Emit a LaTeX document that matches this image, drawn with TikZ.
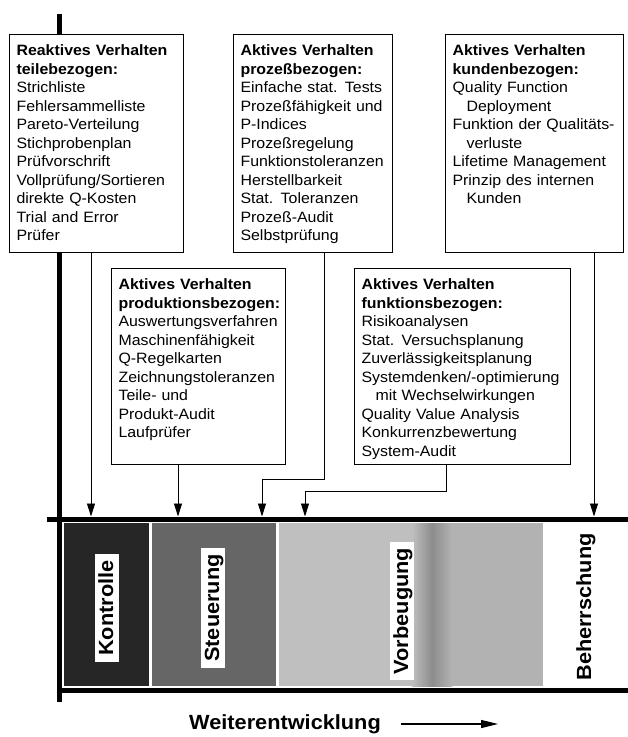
\documentclass[tikz,border=0pt]{standalone}
\usepackage{fontspec}
\setmainfont{Liberation Sans}[FakeStretch=1.06]
\usetikzlibrary{arrows.meta}
\tikzset{>=latex}
\hyphenpenalty=10000
\exhyphenpenalty=10000
\colorlet{kontrollgrau}{black!85}
\colorlet{steuergrau}{black!60}
\colorlet{vorbeugegrau}{black!25}
\newcommand\boxfont{\fontsize{15}{18.5}\selectfont}
\newcommand\phasefont{\fontsize{20.5}{24}\selectfont\bfseries}
\tikzstyle{qbox}=[draw,line width=1.1pt,fill=white,anchor=north west,align=left,inner xsep=7pt,inner ysep=0pt,text height=21pt,font=\boxfont]
\tikzstyle{phase}=[rotate=90,font=\phasefont,inner xsep=6pt,inner ysep=3pt,text height=15pt,text depth=3pt]
\tikzstyle{phase white}=[phase,fill=white]
\tikzstyle{axis}=[line width=5pt]
\tikzstyle{connect arrow}=[-{Triangle[length=13pt,width=8pt]},line width=0.9pt]

\begin{document}
\begin{tikzpicture}[x=1pt,y=-1pt]
\useasboundingbox (0,0) rectangle (628,737);

% Bands
\fill[kontrollgrau] (64,523) rectangle (149,686);
\fill[steuergrau] (152,523) rectangle (276,686);
\fill[vorbeugegrau] (279,523) rectangle (543,686);
\shade[left color=vorbeugegrau,right color=black!30,middle color=black!45] (412,523) rectangle (452,686);
\fill[black!30] (452,523) rectangle (543,686);

% Axes
\draw[axis] (59,14) -- (59,702);
\draw[axis] (47,519) -- (628,519);
\draw[axis] (59,690) -- (628,690);

% Upper boxes
\node[qbox,text width=160pt,text depth=197pt] (reakt) at (9,34) {
\textbf{Reaktives Verhalten}\\
\textbf{teilebezogen:}\\
Strichliste\\
Fehlersammelliste\\
Pareto-Verteilung\\
Stichprobenplan\\
Prüfvorschrift\\
Vollprüfung/Sortieren\\
direkte Q-Kosten\\
Trial and Error\\
Prüfer};
\node[qbox,text width=145pt,text depth=197pt] (proz) at (233,34) {
\textbf{Aktives Verhalten}\\
\textbf{prozeßbezogen:}\\
Einfache stat. Tests\\
Prozeßfähigkeit und\\
P-Indices\\
Prozeßregelung\\
Funktionstoleranzen\\
Herstellbarkeit\\
Stat. Toleranzen\\
Prozeß-Audit\\
Selbstprüfung};
\node[qbox,text width=164pt,text depth=197pt] (kund) at (445,34) {
\textbf{Aktives Verhalten}\\
\textbf{kundenbezogen:}\\
Quality Function\\
\hspace*{14pt}Deployment\\
Funktion der Qualitäts-\\
\hspace*{14pt}verluste\\
Lifetime Management\\
Prinzip des internen\\
\hspace*{14pt}Kunden};

% Lower boxes
\node[qbox,text width=160pt,text depth=175pt] (prod) at (111,268) {
\textbf{Aktives Verhalten}\\
\textbf{produktionsbezogen:}\\
Auswertungsverfahren\\
Maschinenfähigkeit\\
Q-Regelkarten\\
Zeichnungstoleranzen\\
Teile- und\\
Produkt-Audit\\
Laufprüfer};
\node[qbox,text width=202pt,text depth=175pt] (funk) at (354,268) {
\textbf{Aktives Verhalten}\\
\textbf{funktionsbezogen:}\\
Risikoanalysen\\
Stat. Versuchsplanung\\
Zuverlässigkeitsplanung\\
Systemdenken/-optimierung\\
\hspace*{14pt}mit Wechselwirkungen\\
Quality Value Analysis\\
Konkurrenzbewertung\\
System-Audit};

% Arrow ends on the line
\coordinate (z1) at (91,516.5);
\coordinate (z2) at (178,516.5);
\coordinate (z3) at (262,516.5);
\coordinate (z4) at (305,516.5);
\coordinate (z5) at (594,516.5);
\coordinate (k3) at (324,479);
\coordinate (k4) at (446,491);

\begin{scope}[connect arrow]
    \draw (reakt.south -| z1) -- (z1);
    \draw (prod.south -| z2) -- (z2);
    \draw (proz.south -| k3) -- (k3) -| (z3);
    \draw (funk.south -| k4) -- (k4) -| (z4);
    \draw (kund.south -| z5) -- (z5);
\end{scope}

% Phases
\node[phase white] (kontrolle) at (107,608) {Kontrolle};
\node[phase white] (steuerung) at (213,608) {Steuerung};
\node[phase white] (vorbeugung) at (402,611) {Vorbeugung};
\node[phase] (beherrschung) at (585,607) {Beherrschung};

% Weiterentwicklung
\node[font=\phasefont,inner sep=0pt] (weiter) at (285,724) {Weiterentwicklung};
\coordinate (wend) at (498,724);
\draw[-{Triangle[length=17pt,width=8pt]},line width=1.3pt] ([xshift=20pt]weiter.east) -- (wend);

\end{tikzpicture}
\end{document}
